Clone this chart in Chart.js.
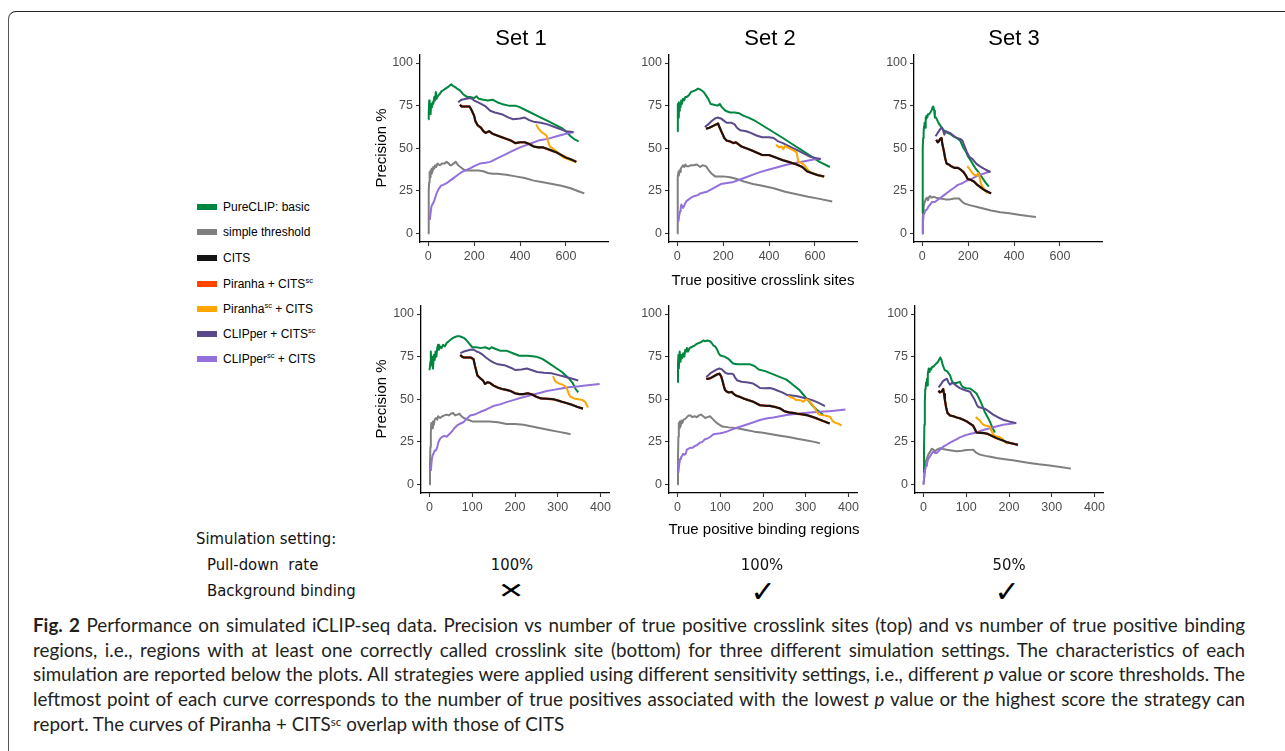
<!DOCTYPE html>
<html>
<head>
<meta charset="utf-8">
<script src="https://cdn.jsdelivr.net/npm/chart.js@4.4.1/dist/chart.umd.min.js"></script>
<style>
html,body{margin:0;padding:0;background:#fff;}
body{width:1285px;height:751px;overflow:hidden;position:relative;}
.frame{position:absolute;left:8px;top:11px;width:1400px;height:900px;border-top:1.5px solid #222;border-left:1.5px solid #555;border-top-left-radius:8px;}
canvas.panel{position:absolute;}
.t{position:absolute;white-space:nowrap;color:#000;font-family:"Liberation Sans",Arial,sans-serif;}
.title{font-size:22px;transform:translate(-50%,-50%);}
.axt{font-size:15px;transform:translate(-50%,-50%);}
.ylab{font-size:15px;transform:translate(-50%,-50%) rotate(-90deg);}
.leg{font-size:12px;line-height:16px;height:16px;}
.leg sup{font-size:7.5px;vertical-align:5px;line-height:0;}
.sw{position:absolute;width:20px;height:6px;}
.sim{font-family:"DejaVu Sans Condensed","DejaVu Sans",sans-serif;font-stretch:condensed;font-size:16.5px;color:#111;}
.simc{transform:translate(-50%,-50%);}
.cap{position:absolute;left:33px;font-family:Lato,"Open Sans",sans-serif;font-size:17px;line-height:25px;color:#231f20;white-space:nowrap;}
.cap sup{font-size:0.62em;vertical-align:0.4em;line-height:0;}
</style>
</head>
<body>
<div class="frame"></div>
<div id="root"></div>
<script>
// ---------------- DATA ----------------
// Series labels (legend order) and colours
const seriesLabels = ["PureCLIP: basic","simple threshold","CITS","Piranha + CITS<sup>sc</sup>","Piranha<sup>sc</sup> + CITS","CLIPper + CITS<sup>sc</sup>","CLIPper<sup>sc</sup> + CITS"];
const seriesColors = ["#00873f","#7f7f7f","#161414","#ff4500","#ffa500","#5a4a8c","#9370db"];

const setTitles = ["Set 1","Set 2","Set 3"];
const yTicks = [0,25,50,75,100];
const xTicksSites = [0,200,400,600];
const xTicksRegions = [0,100,200,300,400];
const pullDownRate = ["100%","100%","50%"];
const backgroundBinding = ["\u2715","\u2713","\u2713"];

// ---- Set 1, true positive crosslink sites ----
const s1_sites_pure = [[0,67],[2,70],[4,78],[6,72],[8,76],[10,70],[13,76],[16,74],[19,77],[22,76],[26,80],[29,78],[33,83],[36,79],[39,80],[44,81],[51,82],[58,83.5],[65,84],[75,85],[87,86],[95,87],[101,87.5],[108,86.5],[116,86],[125,85],[138,84],[150,82],[159,81],[170,80],[185,80],[200,79.5],[210,80.5],[220,79],[240,78.5],[260,78],[280,78.5],[300,77],[320,76],[350,75],[380,75],[400,74],[430,72],[460,70],[490,68],[520,66],[550,64],[580,62],[600,60],[620,57],[640,55],[655,54]];
const s1_sites_thresh = [[0,0],[1,10],[2,19],[3,25],[4,30],[6,36],[8,33],[10,37],[12,35],[15,38],[18,36],[22,39],[26,38],[30,40],[35,39],[40,41],[50,40],[60,41],[70,41],[80,42],[90,41],[95,40],[100,40],[110,41],[120,42],[130,40],[140,39],[150,38],[160,37],[180,37],[200,37],[220,37],[240,36.5],[260,35.5],[280,35],[300,35],[340,34.5],[380,33.5],[420,32.5],[460,31],[500,30],[540,29],[580,28],[620,26.5],[660,24.5],[680,23.5]];
const s1_sites_cits = [[138,75.5],[145,74.5],[160,74.5],[180,74.5],[190,72],[200,69],[205,66],[215,63.5],[230,62],[240,60],[250,59],[265,60],[280,58.5],[300,57.5],[320,56.5],[340,55.5],[360,54.5],[380,53],[400,53.5],[420,53.5],[440,52.5],[460,51],[480,50.5],[500,50.5],[520,49.5],[540,48.5],[560,47.5],[580,46],[600,44.5],[620,43.5],[645,42]];
const s1_sites_piranha = s1_sites_cits; // Piranha + CITS^sc overlaps CITS
const s1_sites_piranhaSc = [[470,64],[480,61.5],[493,59.5],[505,58.5],[515,57.5],[522,54],[530,51],[545,49.5],[560,48],[575,46],[590,44.5],[610,43.5],[630,42.5],[645,42]];
const s1_sites_clipper = [[130,77],[145,78.5],[165,79],[185,79.5],[200,78],[215,77],[230,76],[250,74.5],[270,72],[290,71],[320,70],[350,68],[370,67],[400,67.5],[420,68],[440,66.5],[460,65.5],[490,65],[520,64],[550,62.5],[580,61],[600,60],[630,59.5]];
const s1_sites_clipperSc = [[7,8],[10,12],[14,16],[18,17],[22,18],[28,20],[36,23.5],[45,26],[55,28],[65,28.5],[80,29.5],[95,31],[110,32.5],[125,34],[140,35.5],[160,37],[180,38],[200,39.5],[225,41],[250,41.5],[270,42],[300,44],[330,46],[360,48],[400,50.5],[440,52.5],[480,54.5],[520,55.5],[560,57],[600,58.5],[635,59.5]];

// ---- Set 2, true positive crosslink sites ----
const s2_sites_pure = [[0,60],[2,70],[3,76],[5,68],[7,77],[9,72],[11,76],[14,74],[17,78],[20,76],[25,79],[30,78],[35,80],[40,80],[50,81],[60,83],[70,83.5],[80,84],[90,85],[100,84.5],[105,84],[115,83],[125,81],[135,79],[145,76],[160,75.5],[175,75],[185,76],[195,74],[210,72],[230,71],[250,71],[270,70.5],[290,69],[310,68],[340,66],[370,63.5],[400,61],[430,58.5],[460,56],[500,52.5],[540,49],[580,45.5],[620,42],[665,39]];
const s2_sites_thresh = [[0,0],[1,15],[2,25],[3,33],[5,36],[7,34],[9,37],[12,36],[15,38],[20,39],[25,40],[30,39],[35,40.5],[40,39.5],[50,39.5],[60,40],[70,40],[85,40.5],[100,39],[110,40],[125,39.5],[135,37.5],[150,35],[165,33.5],[200,33.5],[230,33],[260,32],[290,30.5],[330,29],[370,28],[420,26.5],[470,24.5],[520,23],[570,21.5],[620,20.3],[675,18.7]];
const s2_sites_cits = [[125,61.5],[140,62],[155,63],[170,64],[178,64.5],[185,62],[195,59],[205,56],[215,54.5],[230,54],[245,53],[255,53.5],[265,52.5],[280,51],[300,50],[320,49],[345,47.5],[370,46],[400,46],[420,45],[440,44],[460,43],[490,41.8],[520,40.5],[545,39],[565,36.5],[585,35.5],[610,34.3],[640,33.4]];
const s2_sites_piranha = s2_sites_cits;
const s2_sites_piranhaSc = [[430,52],[445,50.5],[455,51],[462,49.5],[470,51.5],[480,50.5],[495,49.5],[510,48.5],[520,47.5],[525,44],[528,42],[540,41.5],[555,40],[565,38],[580,36],[600,35],[620,34],[640,33.4]];
const s2_sites_clipper = [[120,62.5],[135,64],[150,66],[165,67.5],[175,68],[190,67.5],[200,66.5],[215,65],[235,65],[250,64],[260,62],[275,60.5],[300,60],[320,59],[345,57.5],[370,56.5],[400,56.5],[420,56],[440,54],[460,53],[490,51],[520,49],[550,47],[580,45],[610,44],[625,43.5]];
const s2_sites_clipperSc = [[5,7],[8,10],[12,13],[15,15],[18,17],[22,16],[26,15],[32,17],[40,19],[50,20],[60,21],[75,22],[90,22.5],[100,23.5],[115,24],[130,24.5],[150,26],[170,27.5],[190,29],[210,29.5],[240,30],[270,31.5],[300,33],[330,34.5],[360,36],[400,37.5],[440,39],[480,40.5],[520,41.5],[560,42.5],[600,43.5],[625,44]];

// ---- Set 3, true positive crosslink sites ----
const s3_sites_pure = [[0,12],[1,25],[2,40],[3,50],[4,56],[6,60],[8,63],[10,65],[12,62],[14,68],[16,66],[18,69],[22,68],[25,70],[30,70],[35,71],[40,72],[45,74],[48,74.5],[52,72],[55,68],[60,68],[70,65],[80,63],[90,61],[100,60],[110,59],[120,58.5],[135,57],[150,56],[165,54.5],[180,50],[190,48],[200,45],[215,42],[230,38.5],[245,36],[260,33],[275,30],[290,27.5]];
const s3_sites_thresh = [[0,0],[2,8],[4,13],[6,16],[10,18],[15,20],[20,21],[25,19.5],[30,21.5],[35,22],[40,21],[50,21.5],[60,21],[80,20.5],[100,20],[120,20],[140,20.5],[160,20.5],[175,18.5],[185,17.5],[210,16.5],[240,15.5],[270,14.5],[300,13.5],[340,12.5],[380,11.8],[420,11],[460,10.2],[495,9.7]];
const s3_sites_cits = [[61,55],[67,53.5],[72,54],[78,55.5],[84,56],[88,52],[94,48.5],[100,44],[106,41],[115,40.5],[125,39.5],[140,38.5],[155,38.5],[167,37.5],[180,36],[190,34],[198,32],[210,31.5],[225,30.5],[240,28.5],[255,27],[270,25.5],[285,24.5],[300,23.5]];
const s3_sites_piranha = s3_sites_cits;
const s3_sites_piranhaSc = [[196,39.5],[205,38],[215,36],[225,34.5],[238,34],[245,35.5],[250,33],[255,29.5],[262,27.5],[270,26],[278,24.5],[285,23.5]];
const s3_sites_clipper = [[58,57],[65,58.5],[72,60],[80,61.5],[87,62],[92,60],[96,58],[102,60],[110,59.5],[120,59],[130,58],[140,57],[152,56],[165,55.5],[175,54.5],[185,51],[195,47.5],[205,45],[220,43.5],[235,41],[250,39.5],[268,38],[285,36.8],[297,36]];
const s3_sites_clipperSc = [[0,0],[3,6],[6,11],[10,12],[14,13.5],[20,14],[28,16],[35,17],[43,18.5],[55,18.5],[65,19.5],[80,21],[95,22.5],[110,24],[125,25.5],[140,27],[155,28.5],[175,29.5],[195,31],[215,32],[235,33.5],[255,34.5],[275,35.5],[297,36.5]];

// ---- Set 1, true positive binding regions ----
const s1_regions_pure = [[0,67],[2,72],[3,78],[4,70],[6,75],[8,68],[10,76],[12,73],[14,78],[16,75],[18,80],[20,82],[22,79],[25,81],[28,80],[32,82],[36,81],[40,83],[45,84],[50,85],[55,86],[60,86.5],[65,87],[70,87],[75,86.5],[80,86],[85,85],[90,83.5],[95,82],[100,80.5],[110,80.5],[120,80],[130,80.5],[140,79.5],[145,80.5],[155,79.5],[165,78.5],[180,78.5],[195,77],[210,75.5],[230,75.5],[250,75],[265,73.5],[280,71],[295,68.5],[310,66],[325,62.5],[335,59.5],[342,56],[348,54]];
const s1_regions_thresh = [[0,0],[1,12],[2,22],[3,30],[4,36],[6,33],[8,37],[10,35],[12,38],[15,39],[18,38],[20,40],[25,39],[30,40],[35,40.5],[40,41],[45,40.5],[50,41.5],[55,42],[60,40.5],[65,41],[70,41.5],[75,40],[80,39],[90,38],[100,37],[120,37],[140,37],[160,36.5],[180,35.5],[200,35.5],[220,35],[240,34],[260,33],[280,32],[300,31],[320,30],[330,29.5]];
const s1_regions_cits = [[72,76],[76,75],[80,74.5],[88,74.5],[96,74.5],[103,73.5],[106,70],[109,67],[112,64],[118,62.5],[125,61],[130,59],[136,60],[142,59.5],[150,58],[160,56.8],[170,56],[180,55.5],[190,54.8],[200,53.5],[210,53],[220,53],[230,53.5],[240,52.8],[250,51.5],[260,50.5],[275,50.3],[290,50],[300,49.3],[310,48.5],[320,47.8],[333,46.8],[345,45.6],[359,44.5]];
const s1_regions_piranha = s1_regions_cits;
const s1_regions_piranhaSc = [[289,63.5],[293,61],[297,60],[305,59],[312,58.5],[318,57.5],[322,56],[326,53],[330,51.5],[338,50.5],[348,50],[358,49.5],[364,48.5],[368,46.5],[371,45.2]];
const s1_regions_clipper = [[72,77],[80,78],[87,78.5],[95,79],[103,79.2],[110,78],[116,77.5],[125,76],[132,74.5],[140,73],[150,71.5],[160,70.5],[175,70],[190,68.5],[200,67.2],[215,67.5],[228,68],[240,67],[252,66],[268,65.5],[285,65.2],[300,64.3],[315,63.3],[330,62.3],[348,61]];
const s1_regions_clipperSc = [[3,8],[5,14],[7,17],[9,18],[12,20],[15,20],[18,22],[21,25],[25,27],[30,28],[35,28.5],[40,28],[46,29.5],[52,31],[58,33],[64,34.5],[70,35.5],[79,36.5],[87,38.5],[95,40.5],[105,41],[118,42.5],[133,44],[149,46],[165,47],[180,48.3],[196,49.5],[212,50.7],[228,51.8],[243,52.8],[260,53.8],[274,54.8],[290,55.5],[305,56.2],[325,57],[345,57.5],[370,58.2],[398,59]];

// ---- Set 2, true positive binding regions ----
const s2_regions_pure = [[0,60],[1,70],[2,76],[3,68],[5,78],[7,72],[9,76],[11,74],[13,77],[16,75],[18,79],[20,78],[22,80],[25,78],[28,80],[32,80.5],[36,81],[40,81.5],[45,82.5],[50,83],[55,83.5],[60,84.5],[65,84],[70,84.5],[76,84],[80,83],[84,81.5],[88,81],[92,79.5],[96,77],[100,75.7],[110,75],[120,73.5],[130,71],[140,70.5],[155,70.5],[170,70.5],[180,69.5],[190,67.5],[205,66.5],[220,65],[240,63],[255,61.5],[265,59.5],[275,57.5],[285,55.5],[295,52.5],[305,49.5],[315,46.5],[325,44],[333,42.5],[342,40.5]];
const s2_regions_thresh = [[0,0],[1,15],[2,28],[3,36],[4,33],[5,37],[7,34],[9,37.5],[11,36],[14,38],[18,38.5],[22,39.5],[26,40.5],[30,40.5],[35,39.5],[40,40],[45,39.5],[50,40.5],[55,41],[60,40],[65,39],[70,39.5],[76,40],[82,38.5],[88,37],[95,35.5],[105,34],[120,33.5],[140,33],[160,32],[180,31],[200,30.3],[220,29.5],[240,28.6],[260,27.8],[280,26.8],[300,26],[320,25],[333,24.2]];
const s2_regions_cits = [[67,62],[72,62],[78,62.5],[85,63.5],[92,64.5],[98,65],[102,63.5],[105,61],[108,58],[111,55.5],[115,54.5],[120,54],[127,54.3],[132,53],[138,52],[145,51.5],[154,50.5],[165,49.5],[177,48.6],[185,47.5],[193,46.5],[205,46.2],[216,46.1],[228,45.5],[240,44.6],[250,43],[260,42.3],[270,42],[280,41.5],[290,41.2],[302,40.7],[315,39.7],[325,38.8],[340,37.3],[356,35.8]];
const s2_regions_piranha = s2_regions_cits;
const s2_regions_piranhaSc = [[259,52],[266,51],[272,50.5],[278,49.5],[284,49.5],[290,49.2],[294,48.5],[298,49.5],[302,50],[308,49],[313,47.5],[318,46],[322,44.5],[326,42.5],[330,41.2],[338,40.8],[345,40.5],[352,40],[358,39.5],[362,37.5],[366,36.5],[372,36],[378,35.5],[384,34.5]];
const s2_regions_clipper = [[67,63],[72,64],[78,65.5],[85,66.5],[92,67.5],[98,68],[104,67.5],[108,66.5],[112,65.5],[118,65],[126,65],[131,64.5],[135,62.5],[140,61],[150,60.3],[165,59.8],[177,59.2],[185,58],[193,56.6],[205,56.5],[216,56.6],[225,56],[232,55.3],[245,54],[255,52.7],[268,52.2],[280,51.8],[292,51],[302,50.4],[315,49.5],[325,48.5],[335,47.3],[345,46]];
const s2_regions_clipperSc = [[2,7],[4,12],[6,15],[8,16],[10,16.5],[13,18],[16,17.5],[19,18],[22,20.5],[26,21],[30,21.5],[35,21.5],[40,22.5],[45,23],[52,24.5],[58,25],[64,26.5],[70,27],[77,28],[84,29.5],[92,29.8],[100,30],[108,30.5],[115,31],[125,32],[135,33],[148,34],[162,35.2],[178,36.5],[193,37.8],[210,38.8],[224,39.3],[240,40],[255,40.7],[270,41.2],[286,41.6],[310,42.2],[333,42.6],[355,43],[372,43.4],[393,44]];

// ---- Set 3, true positive binding regions ----
const s3_regions_pure = [[0,7],[1,20],[2,35],[3,48],[4,56],[5,57],[6,60],[8,62],[9,58],[10,65],[12,68],[14,66],[16,68],[18,67.5],[20,69],[23,69],[26,70],[30,71],[34,72],[37,73.5],[39,74.5],[42,73],[45,70],[50,67],[55,66.5],[62,64],[66,61],[70,59.5],[77,59.5],[85,60.2],[89,58],[93,57],[100,56.5],[109,56.3],[116,55],[124,53.4],[128,51.5],[132,49.5],[138,46],[143,42.7],[150,39.5],[155,37],[161,33.5],[167,30.5]];
const s3_regions_thresh = [[0,0],[2,6],[4,12],[6,14],[9,16],[12,18],[15,19],[19,21],[23,20.5],[27,19.5],[32,20.5],[39,21.3],[46,20.8],[54,20.4],[65,20],[78,19.5],[90,19.8],[100,20.2],[109,20.3],[116,20.4],[124,18.5],[132,17.5],[150,16.5],[171,15.5],[190,14.8],[209,14.2],[230,13.3],[248,12.6],[270,11.8],[295,11.1],[320,10.2],[345,9.3]];
const s3_regions_cits = [[35,55],[38,54],[42,54.5],[46,56],[48,53],[50,49.5],[53,45],[56,42],[62,40.5],[70,40],[78,39.3],[85,38.8],[93,38],[101,37],[108,35.8],[116,34.5],[120,32.5],[124,30.5],[133,30.3],[143,30.1],[150,29.7],[155,29.1],[163,28.1],[171,27.2],[180,26.3],[186,25.8],[195,24.8],[205,24.2],[213,23.7],[221,23.3]];
const s3_regions_piranha = s3_regions_cits;
const s3_regions_piranhaSc = [[122,39.5],[127,38.5],[132,37.5],[136,36],[140,35],[147,34.4],[155,34],[159,31.5],[163,29.5],[167,28.5],[173,28],[178,27.8],[183,27],[188,25.5],[193,24.5],[198,24]];
const s3_regions_clipper = [[35,57],[40,58.5],[45,60.5],[50,61.5],[55,62],[58,60],[62,58.5],[66,59.5],[72,59],[78,57.7],[85,56.5],[93,55.7],[101,55],[109,54.4],[114,52],[120,49.5],[125,46.5],[128,45.5],[135,45],[143,44.5],[152,43],[163,41],[175,39.3],[186,38],[200,37],[217,36]];
const s3_regions_clipperSc = [[0,0],[2,5],[4,9],[6,11],[8,12.5],[11,15],[15,16.5],[19,18],[23,19.5],[27,18.5],[31,18.5],[37,20],[43,21.4],[48,22.5],[54,23.3],[62,24.5],[70,25.6],[78,26.6],[85,27.6],[93,28.4],[101,29.1],[108,29.6],[116,30.1],[128,31],[140,32],[152,32.8],[163,33.6],[175,34.3],[186,35],[200,35.5],[217,36]];

// ---------------- LAYOUT ----------------
const AREA_W = 188, AREA_H = 188, YAX_W = 50, XAX_H = 30, PAD_T = 10, PAD_R = 10;
const panels = [
  {series:[s1_sites_pure,s1_sites_thresh,s1_sites_cits,s1_sites_piranha,s1_sites_piranhaSc,s1_sites_clipper,s1_sites_clipperSc], xTicks:xTicksSites, xMin:-36, xMax:783, left:420, top:54},
  {series:[s2_sites_pure,s2_sites_thresh,s2_sites_cits,s2_sites_piranha,s2_sites_piranhaSc,s2_sites_clipper,s2_sites_clipperSc], xTicks:xTicksSites, xMin:-36, xMax:783, left:669, top:54},
  {series:[s3_sites_pure,s3_sites_thresh,s3_sites_cits,s3_sites_piranha,s3_sites_piranhaSc,s3_sites_clipper,s3_sites_clipperSc], xTicks:xTicksSites, xMin:-36, xMax:783, left:914, top:54},
  {series:[s1_regions_pure,s1_regions_thresh,s1_regions_cits,s1_regions_piranha,s1_regions_piranhaSc,s1_regions_clipper,s1_regions_clipperSc], xTicks:xTicksRegions, xMin:-20, xMax:420, left:421, top:305},
  {series:[s2_regions_pure,s2_regions_thresh,s2_regions_cits,s2_regions_piranha,s2_regions_piranhaSc,s2_regions_clipper,s2_regions_clipperSc], xTicks:xTicksRegions, xMin:-20, xMax:420, left:669, top:305},
  {series:[s3_regions_pure,s3_regions_thresh,s3_regions_cits,s3_regions_piranha,s3_regions_piranhaSc,s3_regions_clipper,s3_regions_clipperSc], xTicks:xTicksRegions, xMin:-20, xMax:420, left:915, top:305}
];
// drawing order: first is drawn on top
const drawOrder = [2,4,3,5,6,0,1];
const seriesWidths = [2,2,2.1,2.3,2,2,2];

const root = document.getElementById('root');
Chart.defaults.font.family = '"Liberation Sans", Arial, sans-serif';

panels.forEach(p => {
  const c = document.createElement('canvas');
  c.className = 'panel';
  c.width = YAX_W + AREA_W + PAD_R;
  c.height = PAD_T + AREA_H + XAX_H;
  c.style.left = (p.left - YAX_W) + 'px';
  c.style.top = (p.top - PAD_T) + 'px';
  root.appendChild(c);
  const datasets = drawOrder.map(i => ({
    label: seriesLabels[i],
    data: p.series[i].map(([x,y]) => ({x, y})),
    borderColor: seriesColors[i],
    backgroundColor: seriesColors[i],
    borderWidth: seriesWidths[i],
    showLine: true, pointRadius: 0, fill: false, tension: 0,
    borderJoinStyle: 'round', borderCapStyle: 'butt'
  }));
  const gridOpts = {display:true, drawOnChartArea:false, drawTicks:true, tickLength:4, tickWidth:1.1, tickColor:'#333'};
  new Chart(c, {
    type: 'scatter',
    data: {datasets},
    options: {
      responsive:false, animation:false, devicePixelRatio:1,
      layout:{padding:{left:0, top:PAD_T, right:PAD_R, bottom:0}},
      plugins:{legend:{display:false}, tooltip:{enabled:false}},
      scales:{
        x:{type:'linear', min:p.xMin, max:p.xMax,
          afterBuildTicks: s => { s.ticks = p.xTicks.map(v => ({value:v})); },
          afterFit: s => { s.height = XAX_H; },
          grid: gridOpts,
          border:{display:true, color:'#000', width:1.3},
          ticks:{color:'#4d4d4d', font:{size:12.5}, padding:3, maxRotation:0, autoSkip:false}
        },
        y:{type:'linear', min:-5, max:105,
          afterBuildTicks: s => { s.ticks = yTicks.map(v => ({value:v})); },
          afterFit: s => { s.width = YAX_W; },
          grid: gridOpts,
          border:{display:true, color:'#000', width:1.3},
          ticks:{color:'#4d4d4d', font:{size:12.5}, padding:3, autoSkip:false}
        }
      }
    }
  });
});

function addText(cls, html, x, y, extra) {
  const d = document.createElement('div');
  d.className = 't ' + cls;
  d.innerHTML = html;
  d.style.left = x + 'px';
  d.style.top = y + 'px';
  if (extra) Object.assign(d.style, extra);
  root.appendChild(d);
  return d;
}

// Set titles
const titleX = [521, 770, 1014];
setTitles.forEach((t,i) => addText('title', t, titleX[i], 38));
// Axis titles
addText('ylab', 'Precision %', 380, 148);
addText('ylab', 'Precision %', 380, 399);
addText('axt', 'True positive crosslink sites', 763, 279);
addText('axt', 'True positive binding regions', 764, 528);

// Legend
const legY = [207, 232, 258, 284, 309, 334, 359];
seriesLabels.forEach((lab,i) => {
  const sw = document.createElement('div');
  sw.className = 'sw';
  sw.style.left = '197px'; sw.style.top = (legY[i]-3) + 'px';
  sw.style.background = seriesColors[i];
  root.appendChild(sw);
  addText('leg', lab, 223, legY[i]-8);
});

// Simulation settings
addText('sim', 'Simulation setting:', 196, 538, {transform:'translateY(-50%)'});
addText('sim', 'Pull-down&nbsp;&nbsp;rate', 207, 564, {transform:'translateY(-50%)'});
addText('sim', 'Background binding', 207, 590, {transform:'translateY(-50%)'});
const simX = [512, 762, 1009];
const symX = [511, 763, 1007];
pullDownRate.forEach((v,i) => addText('sim simc', v, simX[i], 564));
backgroundBinding.forEach((v,i) => addText('sim', v, symX[i], 591, {
  fontSize: i===0 ? '24px' : '30px', fontFamily:'"DejaVu Sans",sans-serif', fontStretch:'normal',
  transform: i===0 ? 'translate(-50%,-50%) scale(1.35,0.9)' : 'translate(-50%,-50%)', color:'#000'}));

// Caption
const captionLines = [
  '<b>Fig. 2</b> Performance on simulated iCLIP-seq data. Precision vs number of true positive crosslink sites (top) and vs number of true positive binding',
  'regions, i.e., regions with at least one correctly called crosslink site (bottom) for three different simulation settings. The characteristics of each',
  'simulation are reported below the plots. All strategies were applied using different sensitivity settings, i.e., different <i>p</i> value or score thresholds. The',
  'leftmost point of each curve corresponds to the number of true positives associated with the lowest <i>p</i> value or the highest score the strategy can',
  'report. The curves of Piranha + CITS<sup>sc</sup> overlap with those of CITS'
];
const CAP_W = 1212;
const capDivs = captionLines.map((l,i) => {
  const d = document.createElement('div');
  d.className = 'cap';
  d.innerHTML = l;
  d.style.top = (612 + i*24.7) + 'px';
  root.appendChild(d);
  return d;
});
// size the font so the widest justified line nearly fills the measure, then justify lines 1-4
let maxW = Math.max(...capDivs.slice(0,4).map(d => d.getBoundingClientRect().width));
const fs = 17 * (CAP_W - 6) / maxW;
capDivs.forEach(d => d.style.fontSize = fs + 'px');
capDivs.slice(0,4).forEach(d => {
  const w = d.getBoundingClientRect().width;
  const n = (d.textContent.match(/ /g) || []).length;
  if (n > 0) d.style.wordSpacing = ((CAP_W - w) / n) + 'px';
});
</script>
</body>
</html>
